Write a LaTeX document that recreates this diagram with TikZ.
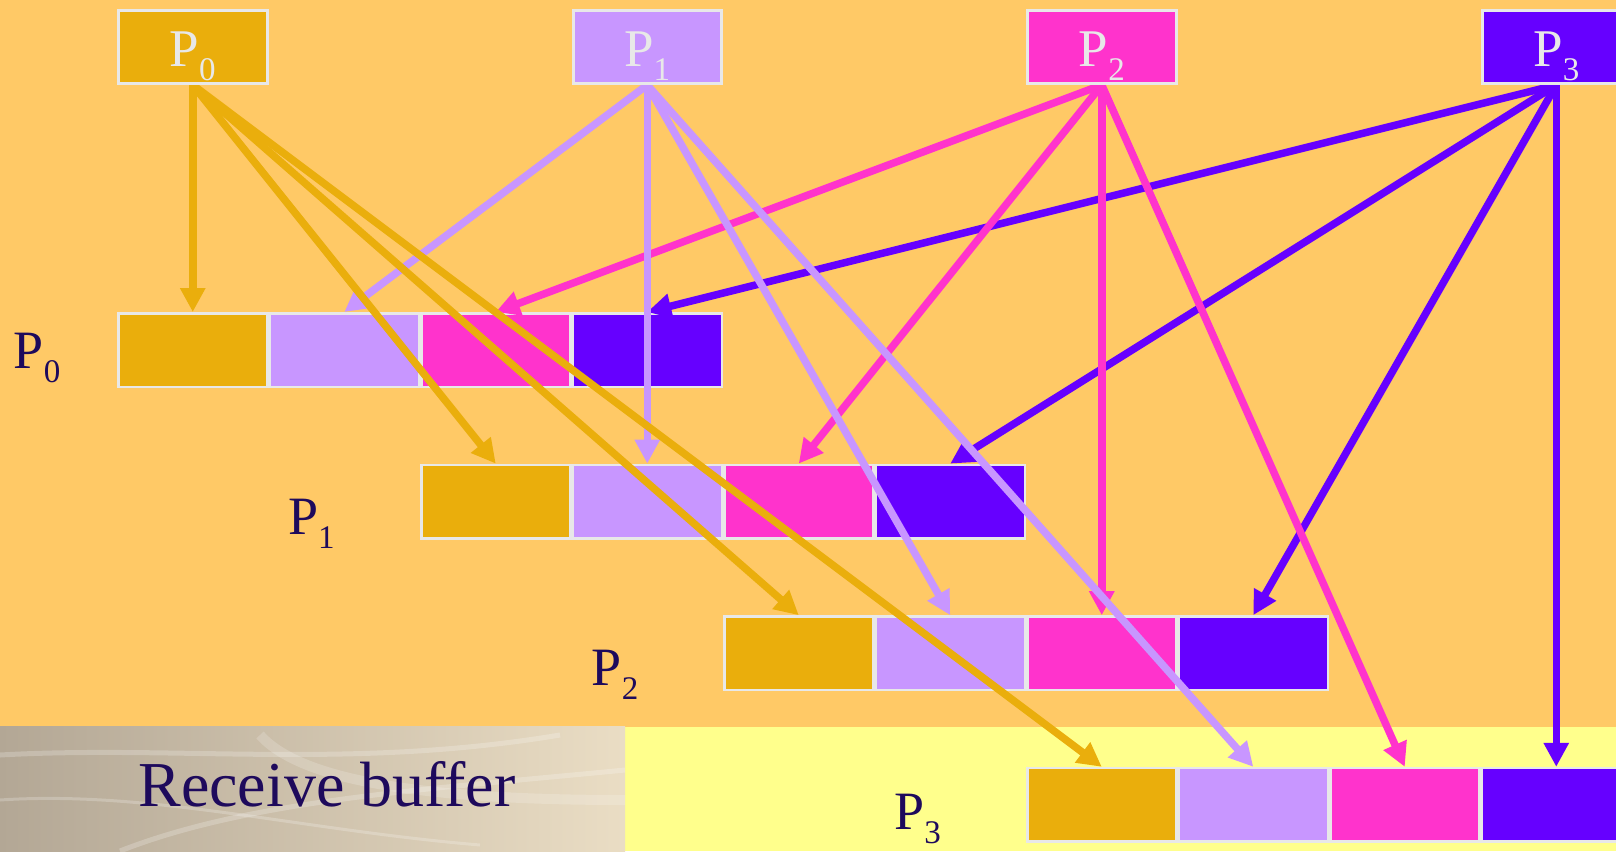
\documentclass[tikz,border=0pt]{standalone}
\usepackage{fontspec}
\setmainfont{Liberation Serif}
\usetikzlibrary{arrows.meta}
\definecolor{bgorange}{HTML}{FFC966}
\definecolor{bandyellow}{HTML}{FFFF8C}
\definecolor{cgold}{HTML}{EAAE0C}
\definecolor{clav}{HTML}{C896FF}
\definecolor{cmag}{HTML}{FF33CC}
\definecolor{cpur}{HTML}{6600FF}
\definecolor{bordergray}{HTML}{E8E8E8}
\definecolor{navy}{HTML}{1E0A5C}
\definecolor{texA}{HTML}{B3A795}
\definecolor{texB}{HTML}{EADDC4}
\newcommand{\plab}[1]{P\raisebox{-14pt}{\fontsize{33}{33}\selectfont #1}}
\pgfdeclarelayer{back}
\pgfdeclarelayer{front}
\pgfsetlayers{back,main,front}
\begin{document}
\begin{tikzpicture}[x=1pt,y=-1pt,
  cell/.style={draw=bordergray, line width=2.5pt, minimum width=149pt, minimum height=73.5pt, inner sep=0pt},
  topbox/.style={draw=bordergray, line width=3pt, minimum width=148.5pt, minimum height=73pt, inner sep=0pt},
  toplabel/.style={anchor=base, inner sep=0pt, text=bordergray, font=\fontsize{53}{53}\selectfont},
  rowlabel/.style={anchor=base, inner sep=0pt, text=navy, font=\fontsize{54}{54}\selectfont},
  arr/.style={line width=7.5pt, -{Triangle[length=24pt,width=24pt]}},
  streak/.style={white, opacity=0.22, line width=5pt}
]
\clip (0,0) rectangle (1616,851);
\begin{pgfonlayer}{back}
  \fill[bgorange] (0,0) rectangle (1616,851);
  \fill[bandyellow] (625,726.7) rectangle (1616,851);
  \fill[left color=texA, right color=texB] (0,726.7) rectangle (625,851);
  \draw[streak] (0,755) .. controls (180,745) and (350,770) .. (560,735);
  \draw[streak] (120,851) .. controls (250,800) and (420,790) .. (625,770);
  \draw[streak, line width=3pt] (0,800) .. controls (150,790) and (300,830) .. (480,845);
  \draw[streak, line width=10pt, opacity=0.18] (260,735) .. controls (300,780) and (420,800) .. (625,800);
  \foreach \r in {0,...,3}{
    \foreach \i/\col in {0/cgold,1/clav,2/cmag,3/cpur}{
      \pgfmathsetmacro{\cx}{117+(2*\r+\i+0.5)*151.5}
      \pgfmathsetmacro{\cy}{312+\r*151.6+38}
      \node[cell, fill=\col] (c\r\i) at (\cx,\cy) {};
    }
  }
\end{pgfonlayer}
\begin{pgfonlayer}{front}
  \foreach \i/\col in {0/cgold,1/clav,2/cmag,3/cpur}{
    \pgfmathsetmacro{\px}{117+(3*\i+0.5)*151.5}
    \node[topbox, fill=\col] (p\i) at (\px,47) {};
    \node[toplabel] (tl\i) at (\px,66.7) {\plab{\i}};
  }
\end{pgfonlayer}
\foreach \i/\col in {3/cpur,2/cmag,1/clav,0/cgold}{
  \foreach \r in {0,...,3}{
    \draw[arr, \col] (p\i.south) -- (c\r\i.north);
  }
}
\node[rowlabel] (rl0) at (37.2,368.3) {\plab{0}};
\node[rowlabel] (rl1) at (311.3,534) {\plab{1}};
\node[rowlabel] (rl2) at (615.2,685) {\plab{2}};
\node[rowlabel] (rl3) at (917.5,829) {\plab{3}};
\node[anchor=base, inner sep=0pt, text=navy, font=\fontsize{64}{64}\selectfont] (rb) at (327,806) {Receive buffer};
\end{tikzpicture}
\end{document}
